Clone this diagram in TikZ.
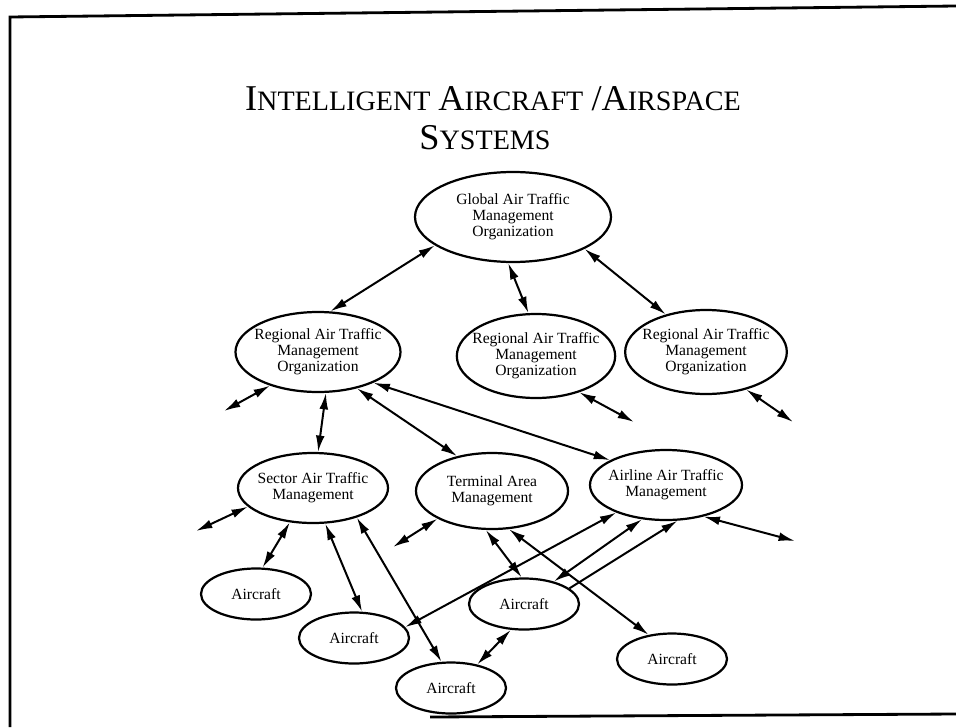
\documentclass[tikz,border=0pt]{standalone}
\usepackage{fontspec}
\setmainfont{Liberation Serif}
\usetikzlibrary{arrows.meta, positioning, shapes.geometric}

\newcommand{\capbig}[1]{{\fontsize{31}{33}\selectfont #1}}
\newcommand{\capsml}[1]{{\fontsize{24}{26}\selectfont #1}}

\begin{document}
\begin{tikzpicture}[
    x=0.03cm, y=-0.03cm,
    every node/.style={font=\fontsize{13.3}{13.8}\selectfont, align=center},
    oval/.style={ellipse, draw, line width=1.9pt, inner xsep=-18pt, inner ysep=-6pt},
    acft/.style={oval, minimum width=3.3cm, minimum height=1.53cm},
    link/.style={line width=1.7pt, {Latex[length=14pt,width=7.5pt]}-{Latex[length=14pt,width=7.5pt]}},
    onelink/.style={line width=1.7pt, -{Latex[length=14pt,width=7.5pt]}}
]
\useasboundingbox (0,0) rectangle (956,727);
% slide frame
\draw[line width=2.4pt] (10,727) -- (10,17) -- (956,6);
\draw[line width=2.4pt] (430,717) -- (956,714);
% heading
\node[inner sep=0pt, anchor=base] (title1) at (493,110)
  {\capbig{I}\capsml{NTELLIGENT}\ \ \capbig{A}\capsml{IRCRAFT}\hspace{7pt}\capbig{/}\capbig{A}\capsml{IRSPACE}};
\node[inner sep=0pt, anchor=base] (title2) at (485,149) {\capbig{S}\capsml{YSTEMS}};
% organizations
\node[oval, minimum width=5.88cm, minimum height=2.7cm] (glob) at (513,217)
  {Global Air Traffic\\Management\\Organization};
\node[oval, minimum width=4.95cm, minimum height=2.4cm] (regA) at (318,352)
  {Regional Air Traffic\\Management\\Organization};
\node[oval, minimum width=4.75cm, minimum height=2.52cm] (regB) at (536,356)
  {Regional Air Traffic\\Management\\Organization};
\node[oval, minimum width=4.85cm, minimum height=2.52cm] (regC) at (706,352)
  {Regional Air Traffic\\Management\\Organization};
% management level
\node[oval, minimum width=4.5cm, minimum height=2.1cm] (sect) at (313,488)
  {Sector Air Traffic\\Management};
\node[oval, minimum width=4.56cm, minimum height=2.28cm] (term) at (492,491)
  {Terminal Area\\Management};
\node[oval, minimum width=4.56cm, minimum height=2.1cm] (airl) at (666,485)
  {Airline Air Traffic\\Management};
% aircraft
\node[acft] (acA) at (256,594) {Aircraft};
\node[acft] (acB) at (354,638) {Aircraft};
\node[acft] (acC) at (451,688) {Aircraft};
\node[acft] (acD) at (524,604) {Aircraft};
\node[acft] (acE) at (672,659) {Aircraft};
% open ends
\coordinate (outA) at (224,411);
\coordinate (outB) at (634,422);
\coordinate (outC) at (793,422);
\coordinate (outS) at (196,531);
\coordinate (outT) at (393,547);
\coordinate (outL) at (795,541);
% links
\foreach \p/\q in {glob.200/regA.73, glob.264/regB.100, glob.336/regC.137,
    regA.215/outA, regB.320/outB, regC.317/outC,
    regA.281/sect.82, regA.317/term.135, regA.331/airl.156,
    sect.196/outS, sect.236/acA.76, sect.289/acB.73, sect.326/acC.110,
    term.207/outT, term.261/acD.95, term.294/acE.134,
    airl.209/acB.12, airl.235/acD.37, airl.320/outL, acD.243/acC.42}
  \draw[link] (\p) -- (\q);
\draw[onelink] (acD.19) -- (airl.288);
\end{tikzpicture}
\end{document}
